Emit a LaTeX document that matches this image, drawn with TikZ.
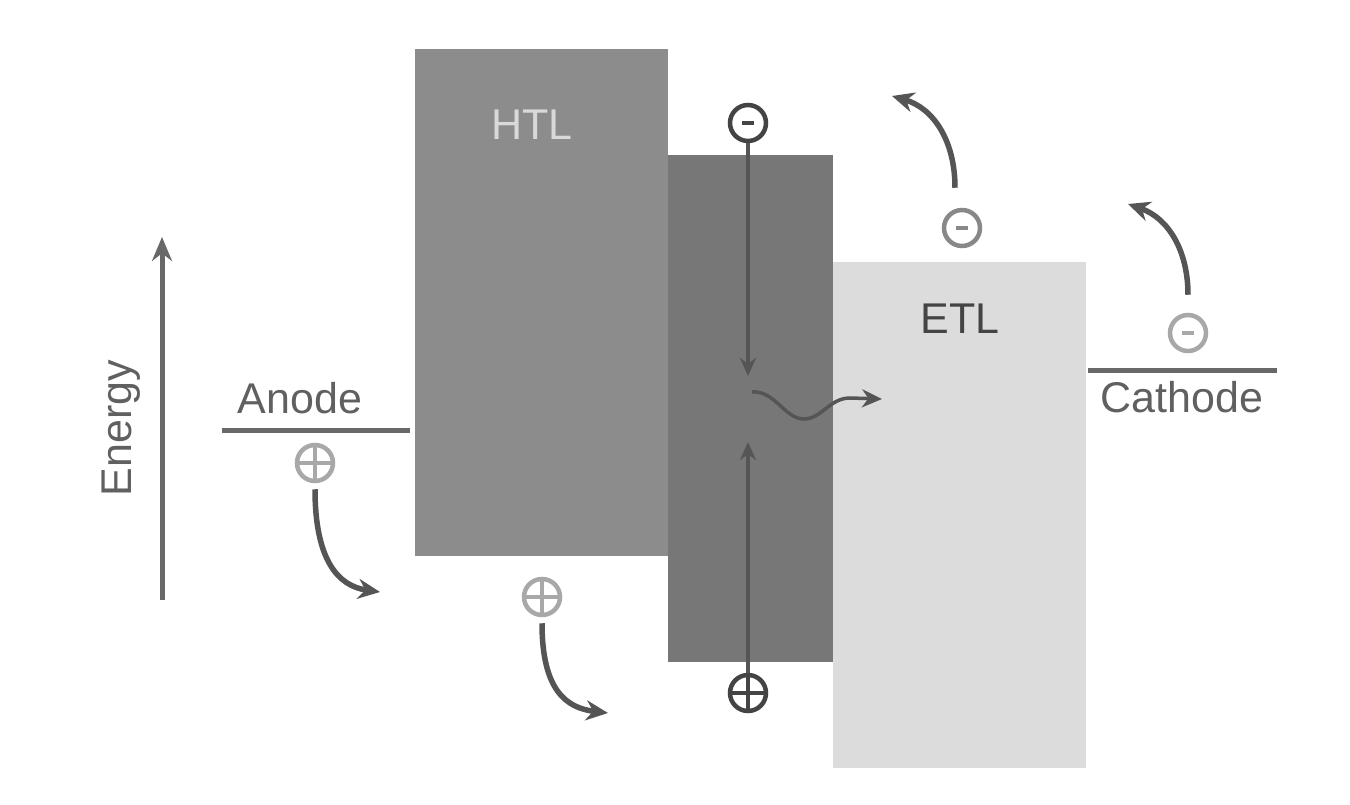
\documentclass[tikz,border=0pt]{standalone}
\usepackage{fontspec}
\setmainfont{Liberation Sans}
\usetikzlibrary{arrows.meta}
\definecolor{htlgray}{HTML}{8C8C8C}
\definecolor{emlgray}{HTML}{777777}
\definecolor{etlgray}{HTML}{DCDCDC}
\definecolor{txtgray}{HTML}{606060}
\definecolor{linegray}{HTML}{686868}
\definecolor{arrgray}{HTML}{555555}
\definecolor{darkq}{HTML}{444444}
\definecolor{midq}{HTML}{888888}
\definecolor{lightq}{HTML}{A8A8A8}
\tikzset{
  layer/.style={fill=#1, draw=none, inner sep=0pt, outer sep=0pt, anchor=north west},
  lbl/.style={font=\fontsize{43}{50}\selectfont, inner sep=0pt},
  minusq/.style={circle, draw=#1, line width=4.5pt, minimum size=36pt, inner sep=0pt,
    path picture={\draw[#1, line width=4pt] ([xshift=-6pt]path picture bounding box.center) -- ([xshift=6pt]path picture bounding box.center);}},
  plusq/.style={circle, draw=#1, line width=4.5pt, minimum size=36pt, inner sep=0pt,
    path picture={\draw[#1, line width=3.5pt] (path picture bounding box.north) -- (path picture bounding box.south)
      (path picture bounding box.west) -- (path picture bounding box.east);}},
  hop/.style={draw=arrgray, line width=5.5pt, -{Stealth[length=22pt,width=20pt]}},
  level/.style={draw=linegray, line width=5pt},
}
\begin{document}
\begin{tikzpicture}[x=1pt,y=-1pt]
\useasboundingbox (0,0) rectangle (1350,805);
\fill[white] (0,0) rectangle (1350,805);
% layers
\node[layer=htlgray, minimum width=253pt, minimum height=507pt] (htl) at (415,49) {};
\node[layer=emlgray, minimum width=165pt, minimum height=507pt] (eml) at (668,155) {};
\node[layer=etlgray, minimum width=253pt, minimum height=506pt] (etl) at (833,262) {};
% labels
\node[lbl, text=white!85!black] (htltxt) at (532,125) {HTL};
\node[lbl, text=darkq] (etltxt) at (960,319) {ETL};
\node[lbl, text=txtgray] (anodetxt) at (300,398) {Anode};
\node[lbl, text=txtgray] (cathodetxt) at (1182,397) {Cathode};
\node[lbl, text=txtgray, rotate=90] (energytxt) at (121,428) {Energy};
% energy axis
\coordinate (eA) at (162,600);
\coordinate (eB) at (162,237);
\draw[draw=linegray, line width=5pt, -{Stealth[length=24pt,width=20pt]}] (eA) -- (eB);
% electrode levels
\coordinate (anL) at (222,430);
\coordinate (anR) at (410,430);
\draw[level] (anL) -- (anR);
\coordinate (caL) at (1088,370);
\coordinate (caR) at (1277,370);
\draw[level] (caL) -- (caR);
% charges
\node[plusq=lightq] (hA) at (315,463) {};
\node[plusq=lightq] (hH) at (542,597) {};
\node[minusq=darkq] (eE) at (748,123) {};
\node[plusq=darkq] (hE) at (748,693) {};
\node[minusq=midq] (eT) at (962,228) {};
\node[minusq=lightq] (eC) at (1188,333) {};
% hops
\coordinate (hAend) at (380,592);
\draw[hop] (hA.south) ++(0,6) .. controls (315,560) and (338,586) .. (hAend);
\coordinate (hHend) at (608,713);
\draw[hop] (hH.south) ++(0,6) .. controls (542,690) and (566,708) .. (hHend);
\coordinate (eTend) at (892,96);
\draw[hop] (eT.north) ++(-7,-20) .. controls (955,140) and (933,108) .. (eTend);
\coordinate (eCend) at (1128,204);
\draw[hop] (eC.north) ++(0,-18) .. controls (1188,250) and (1168,218) .. (eCend);
% transport inside EML
\coordinate (eDown) at (748,376);
\coordinate (hUp) at (748,442);
\draw[draw=arrgray, line width=3.5pt, -{Stealth[length=18pt,width=16pt]}] (eE.south) -- (eDown);
\draw[draw=arrgray, line width=3.5pt, -{Stealth[length=18pt,width=16pt]}] (hE.north) -- (hUp);
% exciton wave
\coordinate (wS) at (752,392);
\coordinate (wE) at (882,399);
\draw[draw=arrgray, line width=3.5pt, -{Stealth[length=20pt,width=18pt]}] (wS) .. controls (775,390) and (785,420) .. (805,419) .. controls (822,418) and (830,398) .. (850,398) -- (wE);
\end{tikzpicture}
\end{document}
